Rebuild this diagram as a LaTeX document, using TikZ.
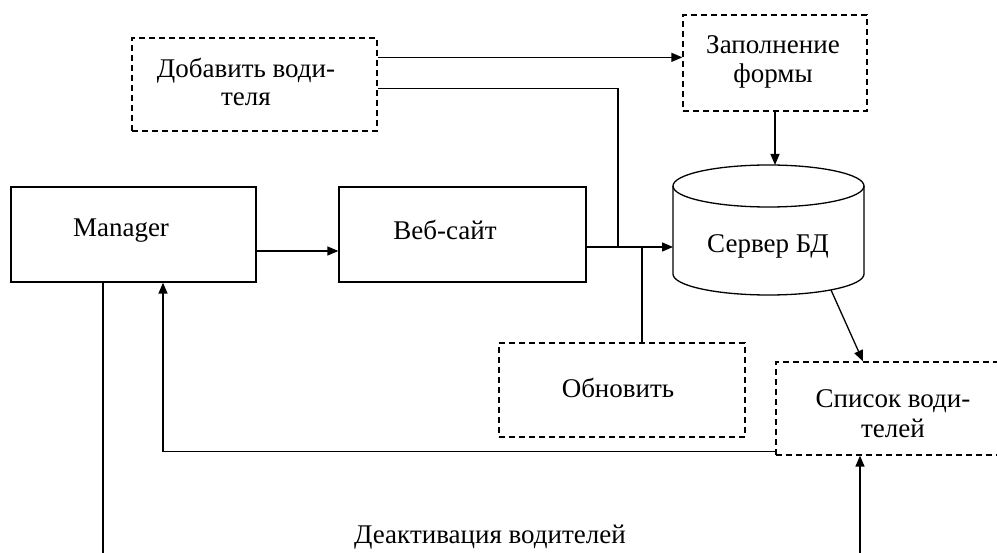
\documentclass[tikz,border=0pt]{standalone}
\usepackage{fontspec}
\setmainfont{Liberation Serif}
\usetikzlibrary{arrows.meta}
\begin{document}
\begin{tikzpicture}[x=1pt,y=-1pt,
  line width=1.3pt,
  box/.style={draw, rectangle, inner sep=0pt},
  dbox/.style={box, dash pattern=on 6pt off 4pt},
  lbl/.style={anchor=base, inner sep=0pt, font=\fontsize{27}{30}\selectfont},
  arr/.style={-{Triangle[length=11pt,width=9pt]}}]
\useasboundingbox (0,0) rectangle (997,553);

% boxes
\node[dbox, minimum width=245pt, minimum height=93pt] (add) at (254.5,84.5) {};
\node[dbox, minimum width=184pt, minimum height=96pt] (form) at (775,63) {};
\node[box, minimum width=245pt, minimum height=95pt] (manager) at (133.5,234.5) {};
\node[box, minimum width=247pt, minimum height=95pt] (web) at (462.5,234.5) {};
\node[dbox, minimum width=246pt, minimum height=94pt] (update) at (622,390) {};
\node[dbox, minimum width=225pt, minimum height=93pt] (list) at (888.5,408.5) {};

% database cylinder
\draw[fill=white] (673,186) -- (673,274)
  arc[start angle=180, end angle=0, x radius=95.5, y radius=21] -- (864,186);
\draw (768.5,186) ellipse [x radius=95.5, y radius=21];
\coordinate (dbtop) at (768.5,165);
\coordinate (dbleft) at (673,247);
\coordinate (dbbot) at (831,290);

% labels
\node[lbl] (tadd1) at (246,78) {Добавить води-};
\node[lbl] (tadd2) at (246,106) {теля};
\node[lbl] (tform1) at (773,54) {Заполнение};
\node[lbl] (tform2) at (773,83) {формы};
\node[lbl] (tman) at (121,237) {Manager};
\node[lbl] (tweb) at (445,240) {Веб-сайт};
\node[lbl] (tdb) at (768,253) {Сервер БД};
\node[lbl] (tupd) at (618,398) {Обновить};
\node[lbl] (tlist1) at (893,408) {Список води-};
\node[lbl] (tlist2) at (893,438) {телей};
\node[lbl] (tdeact) at (490,543) {Деактивация водителей};

% junction points and free ends
\coordinate (j1) at (618,247);
\coordinate (j2) at (642,247);
\coordinate (mb) at (103,553);
\coordinate (lb) at (860,553);

% connectors
\draw[arr] ([yshift=-20pt]add.north east) coordinate (a1) -- (a1 -| form.west);
\draw ([yshift=-51pt]add.north east) -| (j1);
\draw[arr] (form.south) -- (form.south |- dbtop);
\draw[arr] ([yshift=-16.5pt]manager.east) coordinate (m1) -- (m1 -| web.west);
\draw[arr] (web.east |- dbleft) -- (dbleft);
\draw (j2) -- (j2 |- update.north);
\draw[arr] (dbbot) -- ([xshift=-25.5pt]list.north);
\draw[arr] ([yshift=4pt]list.south west) -| ([xshift=29.5pt]manager.south);
\draw (mb |- manager.south) -- (mb);
\draw[arr] (lb) -- (lb |- list.south);
\end{tikzpicture}
\end{document}
